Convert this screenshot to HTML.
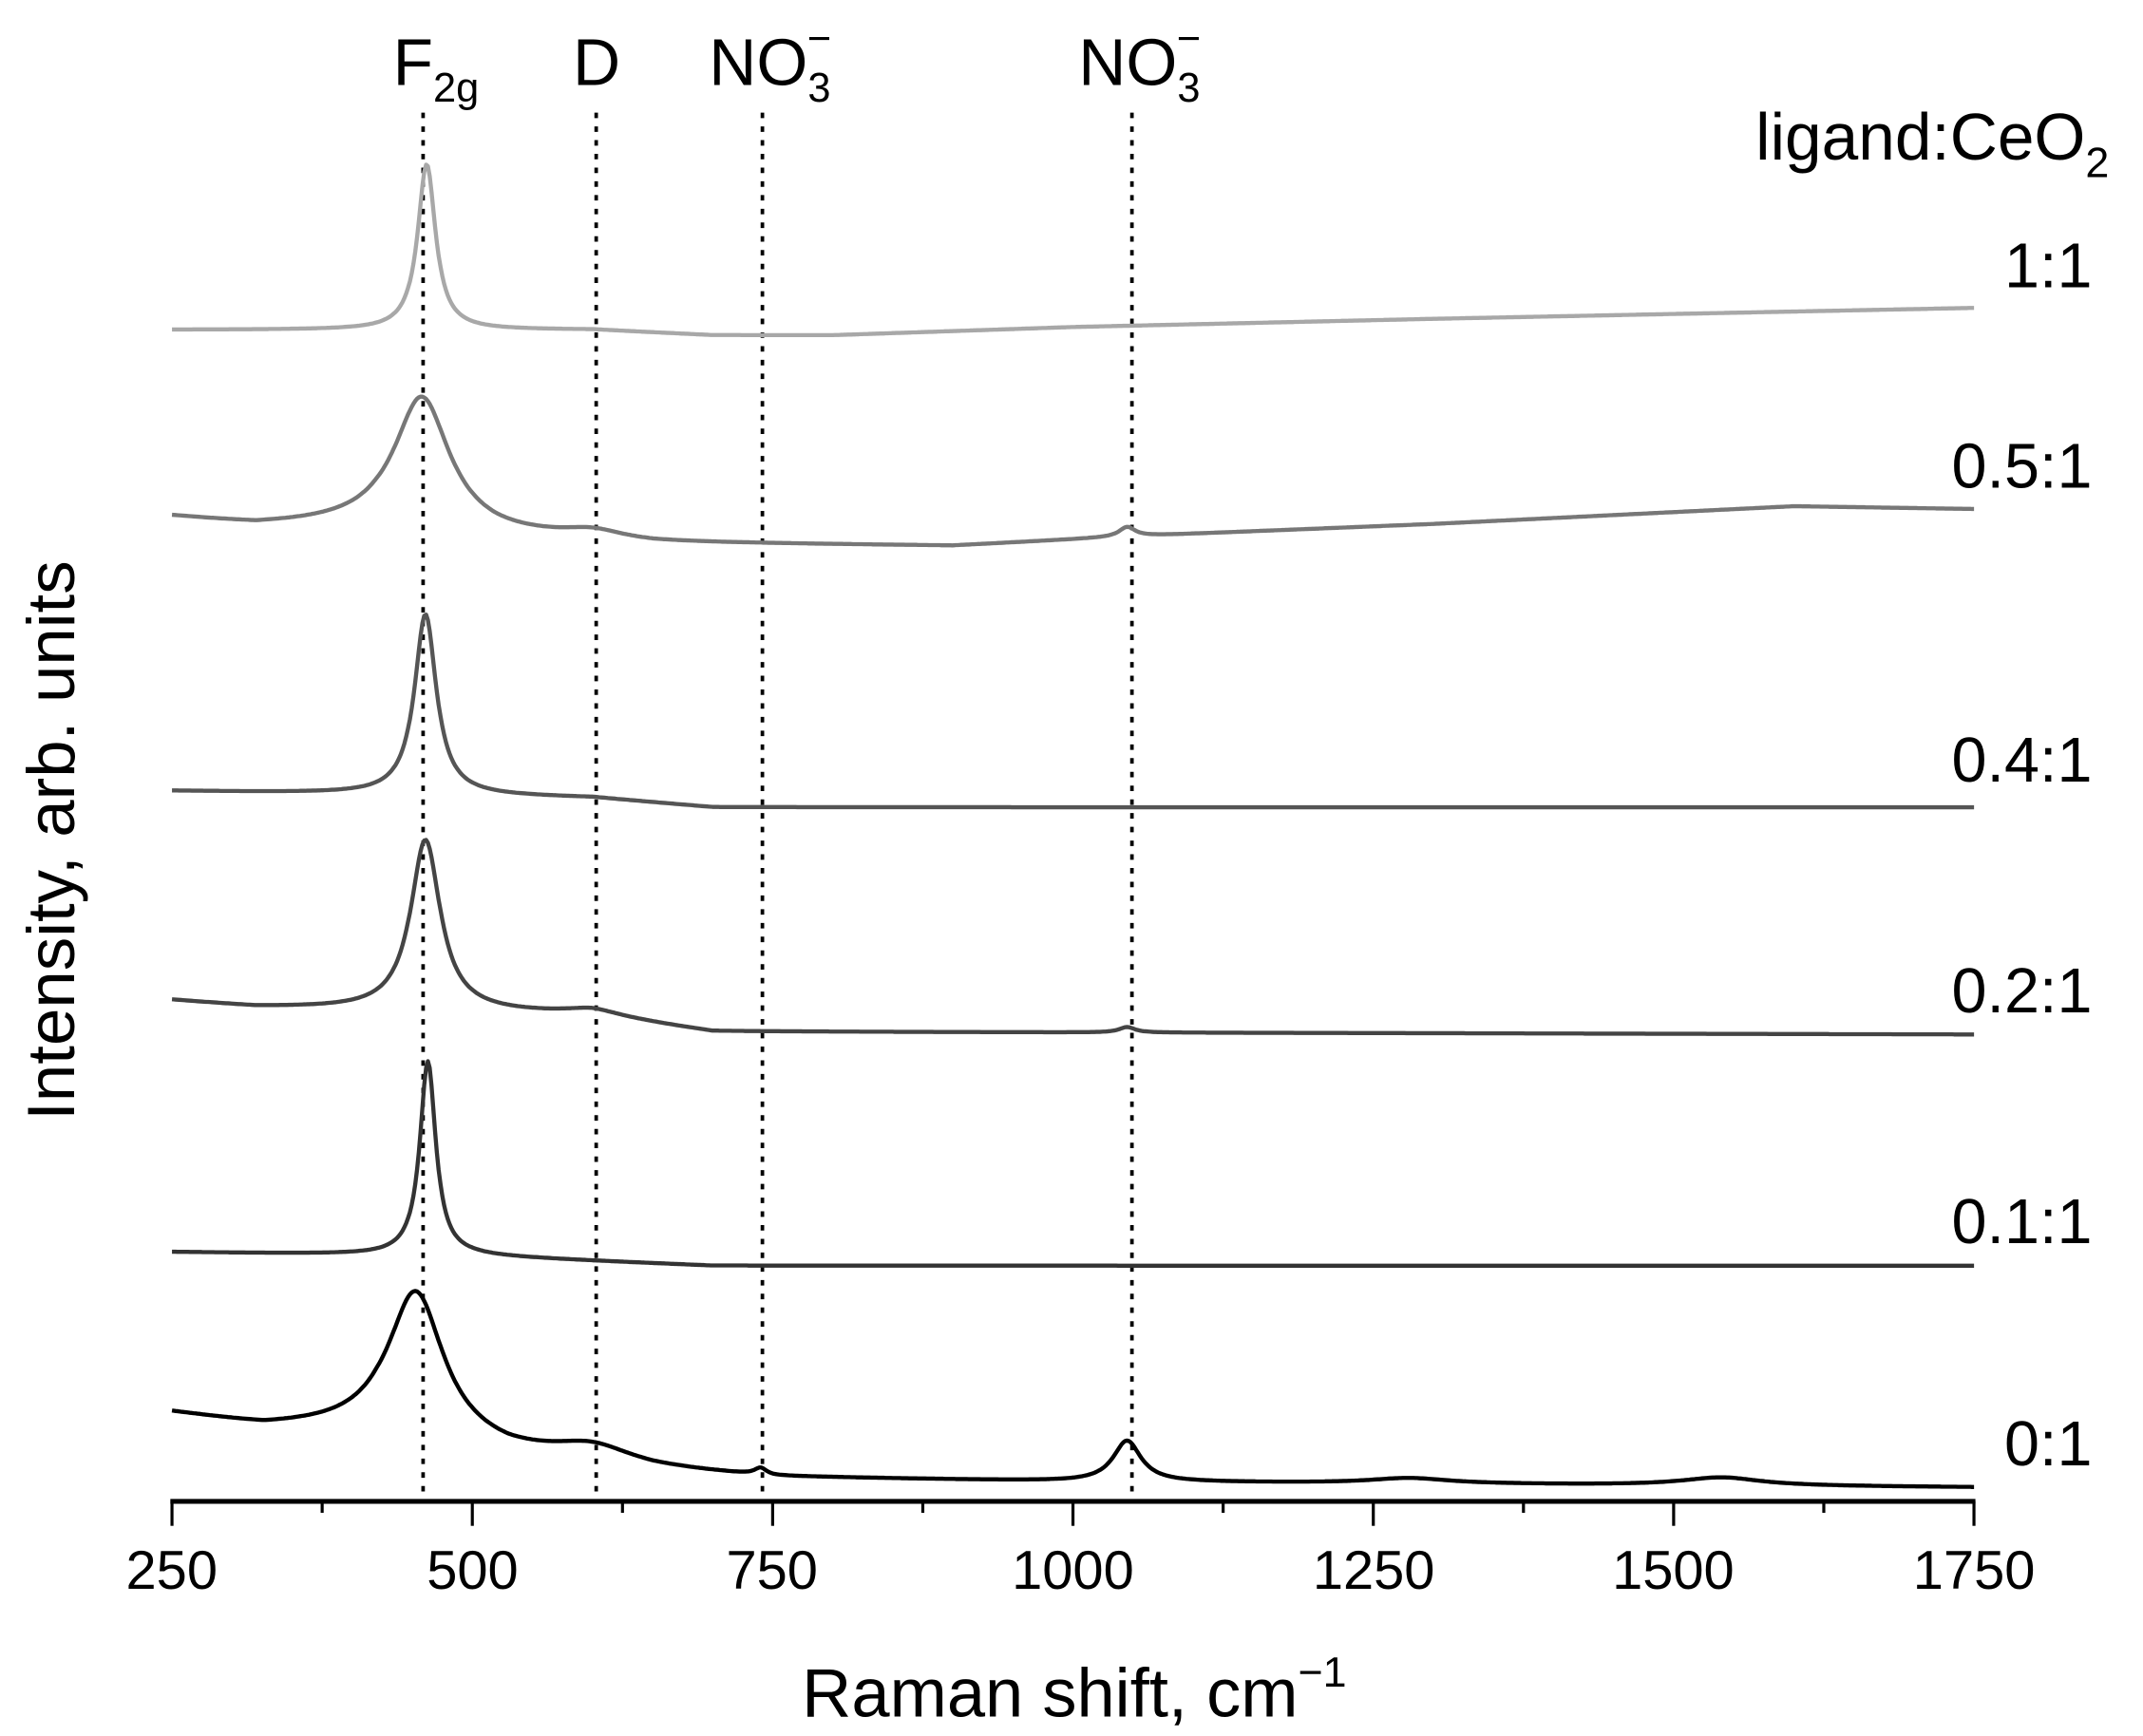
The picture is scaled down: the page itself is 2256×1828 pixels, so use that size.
<!DOCTYPE html>
<html><head><meta charset="utf-8"><style>
html,body{margin:0;padding:0;background:#fff;}
svg{display:block;}
text{font-family:"Liberation Sans",Arial,sans-serif;fill:#000;}
</style></head><body>
<svg id="s" xmlns="http://www.w3.org/2000/svg" width="2256" height="1828" viewBox="0 0 1560 1264">
<g id="dots" stroke="#000" stroke-width="2.6" stroke-dasharray="4,6">
<line x1="308" y1="82" x2="308" y2="1090"/>
<line x1="434" y1="82" x2="434" y2="1090"/>
<line x1="555" y1="82" x2="555" y2="1090"/>
<line x1="824" y1="82" x2="824" y2="1090"/>
</g>
<g id="curves" fill="none" stroke-linejoin="round"></g>
<line x1="124" y1="1093.2" x2="1438" y2="1093.2" stroke="#000" stroke-width="3.5"/>
<g id="ticks" stroke="#000" stroke-width="2.2"></g>
<g font-size="40" text-anchor="middle">
<text x="125" y="1157">250</text><text x="344" y="1157">500</text><text x="562" y="1157">750</text>
<text x="781" y="1157">1000</text><text x="1000" y="1157">1250</text><text x="1218" y="1157">1500</text><text x="1437" y="1157">1750</text>
</g>
<text x="782" y="1250" font-size="50" text-anchor="middle">Raman shift, cm<tspan font-size="31" dy="-22">−1</tspan></text>
<text transform="translate(54,612) rotate(-90)" font-size="49" text-anchor="middle">Intensity, arb. units</text>
<g font-size="48">
<text x="286" y="62">F<tspan font-size="30" dy="12">2g</tspan></text>
<text x="417" y="62">D</text>
<text x="516" y="62">NO<tspan font-size="30" dy="12">3</tspan><tspan font-size="30" dx="-17" dy="-36">−</tspan></text>
<text x="785" y="62">NO<tspan font-size="30" dy="12">3</tspan><tspan font-size="30" dx="-17" dy="-36">−</tspan></text>
<text x="1278" y="116">ligand:CeO<tspan font-size="31" dy="13">2</tspan></text>
</g>
<g font-size="46" text-anchor="end">
<text x="1523" y="209">1:1</text>
<text x="1523" y="355">0.5:1</text>
<text x="1523" y="569">0.4:1</text>
<text x="1523" y="737">0.2:1</text>
<text x="1523" y="905">0.1:1</text>
<text x="1523" y="1067">0:1</text>
</g>
</svg>
<script>
var X=function(w){return 125.2+(w-250)*0.8745;};
var S=[
{c:"#a8a8a8",b:[[250,241],[400,241],[600,241],[700,245],[800,245],[1000,239],[1300,233],[1750,225]],p:[[462,121,9]]},
{c:"#777",b:[[250,378],[320,384],[420,384],[520,392],[650,397],[900,399],[1050,392],[1300,383],[1600,370],[1750,372]],p:[[458,97,28],[600,6,30],[1045,7,8]]},
{c:"#555",b:[[250,578],[400,580],[600,583],[700,590],[1750,590]],p:[[461,132,11]]},
{c:"#444",b:[[250,731],[320,736],[420,738],[600,742],[700,754],[1750,756]],p:[[461,125,15],[600,4,30],[1045,4,8]]},
{c:"#333",b:[[250,915],[500,918],[700,925],[1750,925]],p:[[463,142,8]]},
{c:"#000",b:[[250,1033],[326,1043],[420,1045],[530,1063],[650,1074],[750,1080],[1000,1083],[1750,1087]],p:[[453,106,28],[600,12,40],[740,5,6],[1045,30,14],[1280,4,40],[1540,6,40]]}
];
function base(b,w){for(var i=0;i<b.length-1;i++){if(w<=b[i+1][0]){var t=(w-b[i][0])/(b[i+1][0]-b[i][0]);return b[i][1]+t*(b[i+1][1]-b[i][1]);}}return b[b.length-1][1];}
var g=document.getElementById("curves"),ns="http://www.w3.org/2000/svg";
S.forEach(function(s){var d="";for(var w=250;w<=1750;w+=1.5){var y=base(s.b,w);s.p.forEach(function(p){var u=(w-p[0])/p[2];y-=p[1]/(1+u*u);});y*=0.9963;d+=(d?"L":"M")+X(w).toFixed(1)+","+y.toFixed(1);}
var e=document.createElementNS(ns,"path");e.setAttribute("d",d);e.setAttribute("stroke",s.c);e.setAttribute("stroke-width","3");g.appendChild(e);});
var t=document.getElementById("ticks");
for(var w=250;w<=1750;w+=125){var e=document.createElementNS(ns,"line");var x=X(w);e.setAttribute("x1",x);e.setAttribute("x2",x);e.setAttribute("y1",1093);e.setAttribute("y2",(w-250)%250==0?1111:1101.5);t.appendChild(e);}
</script>
</body></html>
